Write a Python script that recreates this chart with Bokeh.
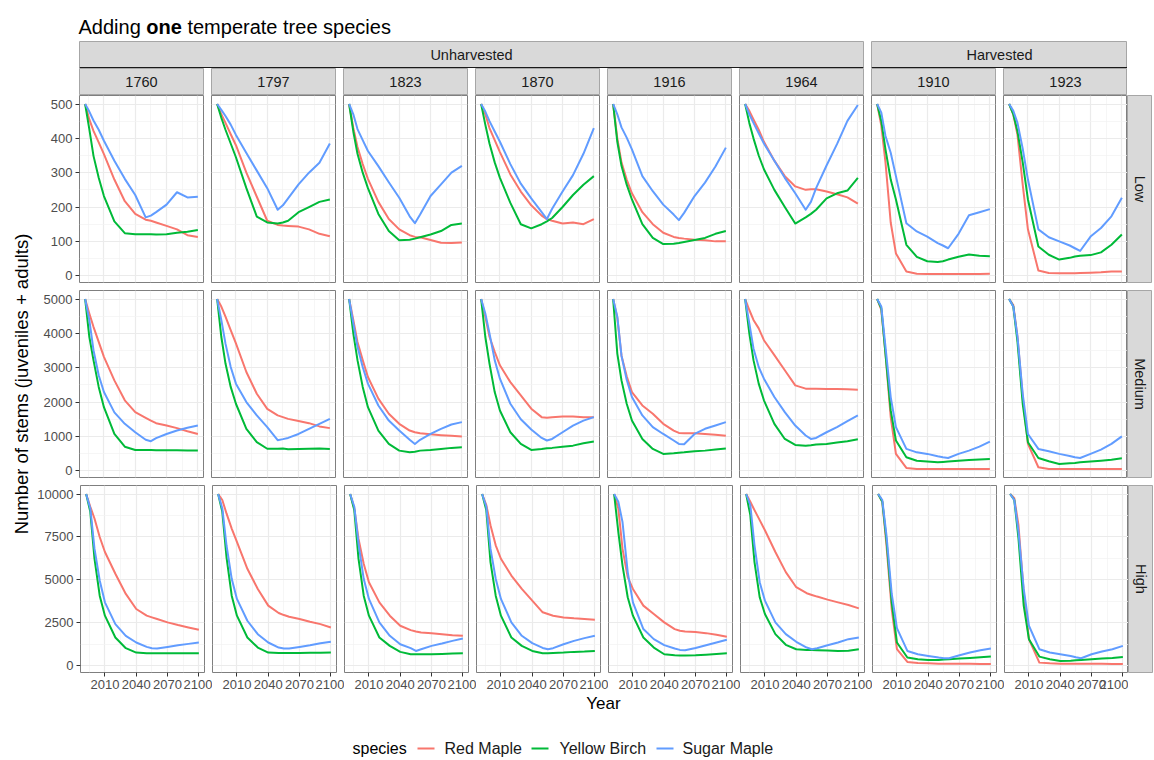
import math
from bokeh.plotting import figure
from bokeh.models import Range1d, FixedTicker, NumeralTickFormatter, Span, Spacer
from bokeh.layouts import row, column
from bokeh.embed import file_html
from bokeh.resources import INLINE
from bokeh.core.properties import value

FONT = "Liberation Sans"

# ---------------- data ----------------
years = [1992, 1996, 2000, 2005, 2010, 2020, 2030, 2040, 2050, 2055, 2060, 2070, 2080, 2090, 2100]
species = ["Red Maple", "Yellow Birch", "Sugar Maple"]
species_colors = ["#F8766D", "#00BA38", "#619CFF"]
management = ["Unharvested", "Harvested"]
unharvested_cohorts = ["1760", "1797", "1823", "1870", "1916", "1964"]
harvested_cohorts = ["1910", "1923"]
densities = ["Low", "Medium", "High"]
x_breaks = [2010, 2040, 2070, 2100]
y_breaks_low = [0, 100, 200, 300, 400, 500]
y_breaks_medium = [0, 1000, 2000, 3000, 4000, 5000]
y_breaks_high = [0, 2500, 5000, 7500, 10000]

# Low density
low_1760_red   = [500, 455, 422, 388, 354, 280, 217, 180, 163, 160, 155, 145, 135, 118, 113]
low_1760_birch = [500, 427, 349, 285, 232, 158, 124, 121, 121, 121, 120, 121, 125, 128, 133]
low_1760_sugar = [500, 478, 452, 425, 393, 335, 282, 235, 170, 175, 185, 207, 243, 228, 230]
low_1797_red   = [500, 470, 445, 412, 380, 300, 230, 160, 148, 146, 145, 143, 135, 122, 115]
low_1797_birch = [500, 460, 425, 385, 345, 255, 172, 155, 152, 155, 160, 185, 200, 215, 222]
low_1797_sugar = [500, 483, 465, 440, 410, 357, 306, 255, 192, 205, 225, 266, 300, 329, 385]
low_1823_red   = [500, 430, 375, 325, 282, 215, 165, 135, 118, 113, 112, 104, 96, 95, 97]
low_1823_birch = [500, 420, 355, 300, 255, 180, 130, 103, 105, 108, 112, 120, 130, 148, 152]
low_1823_sugar = [500, 470, 427, 395, 363, 319, 272, 227, 173, 153, 178, 232, 266, 300, 320]
low_1870_red   = [500, 470, 430, 395, 360, 295, 245, 205, 175, 165, 160, 152, 155, 150, 165]
low_1870_birch = [500, 440, 385, 330, 285, 212, 150, 138, 150, 158, 168, 200, 235, 265, 290]
low_1870_sugar = [500, 478, 450, 420, 390, 325, 268, 225, 185, 165, 195, 245, 293, 355, 430]
low_1916_red   = [500, 400, 330, 280, 240, 185, 150, 125, 113, 110, 108, 105, 103, 100, 100]
low_1916_birch = [500, 390, 320, 265, 222, 150, 110, 92, 93, 95, 98, 104, 110, 122, 130]
low_1916_sugar = [500, 470, 432, 402, 368, 290, 246, 207, 178, 162, 183, 232, 271, 318, 373]
low_1964_red   = [500, 480, 455, 425, 390, 335, 290, 260, 250, 252, 252, 245, 237, 228, 210]
low_1964_birch = [500, 445, 400, 350, 310, 250, 200, 152, 170, 180, 192, 225, 240, 248, 285]
low_1964_sugar = [500, 470, 445, 415, 385, 335, 285, 240, 192, 215, 255, 321, 383, 451, 497]
low_1910_red   = [500, 437, 330, 155, 65, 12, 6, 5, 5, 5, 5, 5, 5, 5, 6]
low_1910_birch = [500, 450, 368, 280, 222, 90, 55, 42, 40, 42, 47, 55, 62, 58, 57]
low_1910_sugar = [500, 475, 407, 358, 290, 153, 129, 114, 95, 88, 80, 122, 176, 185, 194]
low_1923_red   = [500, 470, 410, 265, 135, 15, 8, 7, 7, 7, 8, 9, 10, 12, 12]
low_1923_birch = [500, 470, 420, 330, 222, 85, 61, 47, 52, 56, 58, 60, 68, 90, 120]
low_1923_sugar = [500, 480, 445, 370, 280, 135, 112, 100, 88, 80, 72, 114, 139, 173, 227]

# Medium density
medium_1760_red   = [5000, 4580, 4190, 3750, 3315, 2630, 2050, 1705, 1540, 1460, 1385, 1315, 1240, 1150, 1070]
medium_1760_birch = [5000, 3900, 3220, 2440, 1850, 1070, 700, 605, 600, 600, 598, 595, 595, 590, 590]
medium_1760_sugar = [5000, 4390, 3510, 2780, 2290, 1700, 1365, 1120, 900, 860, 950, 1070, 1170, 1250, 1315]
medium_1797_red   = [5000, 4780, 4485, 4095, 3705, 2875, 2240, 1800, 1610, 1560, 1510, 1445, 1385, 1290, 1240]
medium_1797_birch = [5000, 3900, 3120, 2440, 1950, 1220, 830, 640, 640, 645, 625, 635, 640, 650, 635]
medium_1797_sugar = [5000, 4390, 3700, 3020, 2535, 2000, 1610, 1270, 890, 920, 955, 1070, 1220, 1365, 1510]
medium_1823_red   = [5000, 4390, 3750, 3220, 2730, 2100, 1660, 1365, 1170, 1120, 1090, 1060, 1035, 1015, 995]
medium_1823_birch = [5000, 4000, 3220, 2440, 1850, 1170, 780, 585, 535, 555, 585, 605, 635, 665, 680]
medium_1823_sugar = [5000, 4290, 3610, 3020, 2535, 1900, 1460, 1170, 900, 780, 900, 1070, 1220, 1345, 1415]
medium_1870_red   = [5000, 4485, 3900, 3460, 3070, 2580, 2195, 1805, 1560, 1540, 1560, 1580, 1580, 1560, 1560]
medium_1870_birch = [5000, 3900, 3120, 2290, 1755, 1120, 780, 605, 635, 655, 665, 700, 730, 800, 850]
medium_1870_sugar = [5000, 4580, 4000, 3220, 2680, 1950, 1500, 1200, 955, 880, 925, 1120, 1315, 1460, 1560]
medium_1916_red   = [5000, 4450, 3350, 2750, 2290, 1900, 1660, 1365, 1170, 1100, 1090, 1090, 1070, 1050, 1020]
medium_1916_birch = [5000, 3410, 2630, 1950, 1460, 925, 635, 490, 510, 525, 535, 565, 585, 615, 645]
medium_1916_sugar = [5000, 4485, 3350, 2650, 2145, 1610, 1270, 1070, 880, 780, 770, 1070, 1220, 1315, 1415]
medium_1964_red   = [5000, 4680, 4390, 4145, 3800, 3365, 2925, 2485, 2390, 2390, 2390, 2380, 2380, 2370, 2360]
medium_1964_birch = [5000, 4000, 3220, 2535, 2050, 1365, 925, 750, 730, 740, 760, 780, 820, 860, 915]
medium_1964_sugar = [5000, 4290, 3560, 3020, 2680, 2145, 1705, 1315, 1025, 925, 955, 1120, 1270, 1445, 1610]
medium_1910_red   = [5000, 4680, 3410, 1560, 490, 80, 50, 50, 50, 50, 50, 50, 50, 50, 50]
medium_1910_birch = [5000, 4730, 3410, 1755, 880, 390, 290, 265, 245, 255, 265, 290, 310, 330, 340]
medium_1910_sugar = [5000, 4780, 3610, 2145, 1270, 635, 535, 490, 420, 390, 370, 490, 585, 700, 850]
medium_1923_red   = [5000, 4825, 3900, 2145, 780, 100, 50, 50, 50, 50, 50, 50, 50, 50, 50]
medium_1923_birch = [5000, 4780, 3750, 1950, 830, 370, 275, 195, 215, 225, 245, 265, 290, 320, 360]
medium_1923_sugar = [5000, 4780, 3900, 2240, 1070, 635, 565, 490, 430, 390, 370, 490, 615, 780, 1000]

# High density
high_1760_red   = [10000, 9260, 8575, 7500, 6630, 5360, 4190, 3315, 2925, 2825, 2730, 2535, 2380, 2240, 2105]
high_1760_birch = [10000, 8965, 6240, 4090, 2925, 1655, 1035, 780, 740, 740, 740, 740, 740, 740, 740]
high_1760_sugar = [10000, 9160, 6820, 4970, 3700, 2435, 1755, 1365, 1110, 1035, 1015, 1110, 1210, 1285, 1365]
high_1797_red   = [10000, 9650, 8870, 7990, 7210, 5650, 4480, 3510, 3080, 2960, 2865, 2730, 2575, 2435, 2240]
high_1797_birch = [10000, 8965, 6335, 4090, 2925, 1655, 1070, 780, 760, 760, 760, 760, 770, 775, 780]
high_1797_sugar = [10000, 9160, 7020, 5070, 3900, 2630, 1850, 1365, 1070, 1015, 1015, 1110, 1210, 1325, 1405]
high_1823_red   = [10000, 9160, 7400, 5945, 4870, 3700, 2925, 2340, 2085, 2010, 1950, 1910, 1850, 1790, 1755]
high_1823_birch = [10000, 9060, 6240, 4090, 2925, 1655, 1170, 820, 680, 680, 680, 680, 700, 720, 740]
high_1823_sugar = [10000, 9260, 7120, 5070, 3900, 2535, 1755, 1265, 1035, 875, 975, 1170, 1305, 1460, 1600]
high_1870_red   = [10000, 9360, 8185, 7015, 6235, 5260, 4480, 3800, 3120, 3020, 2925, 2825, 2770, 2730, 2690]
high_1870_birch = [10000, 9060, 6040, 4090, 2925, 1655, 1170, 875, 740, 740, 760, 780, 820, 840, 875]
high_1870_sugar = [10000, 9260, 6820, 5070, 3900, 2535, 1755, 1325, 1050, 975, 1035, 1265, 1460, 1620, 1755]
high_1916_red   = [10000, 9160, 6820, 5165, 4480, 3510, 3020, 2535, 2145, 2045, 2010, 1970, 1910, 1810, 1695]
high_1916_birch = [10000, 7800, 5850, 3995, 2925, 1655, 1070, 680, 625, 605, 605, 625, 660, 700, 740]
high_1916_sugar = [10000, 9550, 8380, 5460, 3700, 2145, 1560, 1210, 1015, 935, 915, 1050, 1210, 1365, 1520]
high_1964_red   = [10000, 9550, 9060, 8480, 7890, 6625, 5455, 4580, 4230, 4130, 4035, 3860, 3700, 3545, 3350]
high_1964_birch = [10000, 8770, 6040, 3995, 3020, 1850, 1230, 975, 935, 925, 915, 895, 875, 890, 975]
high_1964_sugar = [10000, 9360, 7015, 4870, 3800, 2535, 1850, 1405, 1070, 975, 1035, 1210, 1365, 1560, 1655]
high_1910_red   = [10000, 9550, 7015, 3310, 975, 235, 175, 155, 135, 135, 135, 130, 125, 120, 115]
high_1910_birch = [10000, 9550, 7310, 3700, 1365, 490, 390, 350, 350, 370, 390, 430, 470, 505, 545]
high_1910_sugar = [10000, 9650, 7600, 4200, 2200, 875, 680, 585, 490, 450, 450, 625, 780, 915, 1015]
high_1923_red   = [10000, 9750, 8185, 4290, 1560, 195, 155, 135, 135, 135, 135, 130, 125, 120, 115]
high_1923_birch = [10000, 9650, 7400, 3510, 1560, 545, 390, 290, 310, 330, 350, 390, 430, 470, 525]
high_1923_sugar = [10000, 9650, 7800, 4480, 2340, 975, 780, 680, 585, 505, 450, 680, 840, 975, 1170]

# ---------------- assemble lookup ----------------
cohorts = unharvested_cohorts + harvested_cohorts
series = {}
for d in densities:
    for c in cohorts:
        series[(d, c)] = [globals()[f"{d.lower()}_{c}_{s}"] for s in ("red", "birch", "sugar")]
y_breaks = [y_breaks_low, y_breaks_medium, y_breaks_high]


def expand(lo, hi, mult=0.05):
    d = (hi - lo) * mult
    return lo - d, hi + d


def minor_breaks(br, lo, hi):
    step = br[1] - br[0]
    cands = [b - step / 2 for b in br] + [br[-1] + step / 2]
    return [m for m in cands if lo <= m <= hi]


x_lo, x_hi = expand(min(years), max(years))
row_ranges = []
for d in densities:
    vals = [v for c in cohorts for arr in series[(d, c)] for v in arr]
    row_ranges.append(expand(min(vals), max(vals)))

# ---------------- layout constants ----------------
PW, PH, GAP = 124, 187, 8
LEFT, BOTTOM = 45, 22
STRIP_H = 27
RSTRIP_W = 25
TOTAL_W = 1153
LEFT_OFF = 79  # page left to first panel frame

TICK_FONT = "13px"
STRIP_FONT = "14.5px"
PANEL_BORDER = "#7F7F7F"
STRIP_BORDER = "#A6A6A6"


def base_fig(fw, fh, xr, yr, **kw):
    p = figure(frame_width=fw, frame_height=fh, x_range=xr, y_range=yr,
               output_backend="svg", toolbar_location=None, title=None,
               x_axis_location=kw.pop("x_axis_location", None),
               y_axis_location=kw.pop("y_axis_location", None),
               min_border_left=kw.pop("ml", 0), min_border_right=kw.pop("mr", 0),
               min_border_top=kw.pop("mt", 0), min_border_bottom=kw.pop("mb", 0),
               **kw)
    p.border_fill_color = "white"
    return p


def strip(label, fw, fh, mr=0, mb=0, angle=0.0, nest=False):
    s = base_fig(fw, fh, Range1d(0, 1), Range1d(0, 1), mr=mr, mb=mb,
                 background_fill_color="#D9D9D9")
    s.outline_line_color = STRIP_BORDER
    s.grid.visible = False
    s.text(x=[0.5], y=[0.5], text=[label], angle=angle, text_align="center",
           text_baseline="middle", text_font=value(FONT),
           text_font_size=STRIP_FONT, text_color="#1A1A1A")
    if nest:
        s.add_layout(Span(location=0.03, dimension="width", line_color="#1A1A1A", line_width=1.6))
    return s


def panel(ri, ci, dens, coh):
    left = ci == 0
    bottom = ri == len(densities) - 1
    last = ci == len(cohorts) - 1
    ylo, yhi = row_ranges[ri]
    p = base_fig(PW, PH, Range1d(x_lo, x_hi), Range1d(ylo, yhi),
                 x_axis_location="below" if bottom else None,
                 y_axis_location="left" if left else None,
                 ml=LEFT if left else 0, mr=0 if last else GAP,
                 mb=BOTTOM if bottom else GAP,
                 background_fill_color="white")
    p.outline_line_color = PANEL_BORDER
    p.outline_line_width = 1
    p.xgrid.ticker = FixedTicker(ticks=x_breaks, minor_ticks=minor_breaks(x_breaks, x_lo, x_hi))
    p.ygrid.ticker = FixedTicker(ticks=y_breaks[ri], minor_ticks=minor_breaks(y_breaks[ri], ylo, yhi))
    p.grid.grid_line_color = "#EBEBEB"
    p.grid.grid_line_width = 1.2
    p.grid.minor_grid_line_color = "#F2F2F2"
    p.grid.minor_grid_line_width = 0.7
    axes = []
    if bottom:
        ax = p.xaxis[0]
        ax.ticker = FixedTicker(ticks=x_breaks, minor_ticks=[])
        axes.append(ax)
    if left:
        ax = p.yaxis[0]
        ax.ticker = FixedTicker(ticks=y_breaks[ri], minor_ticks=[])
        axes.append(ax)
    for ax in axes:
        ax.formatter = NumeralTickFormatter(format="0")
        ax.axis_line_color = None
        ax.major_tick_line_color = "#333333"
        ax.major_tick_out = 4
        ax.major_tick_in = 0
        ax.minor_tick_line_color = None
        ax.major_label_text_font = FONT
        ax.major_label_text_font_size = TICK_FONT
        ax.major_label_text_color = "#4D4D4D"
        ax.major_label_standoff = 3
    for vals, col in zip(series[(dens, coh)], species_colors):
        p.line(years, vals, line_color=col, line_width=2, line_join="round")
    return p


# ---------------- title ----------------
TITLE_H = 41
title = base_fig(TOTAL_W, TITLE_H, Range1d(0, TOTAL_W), Range1d(0, TITLE_H))
title.outline_line_color = None
title.grid.visible = False
t_size = 20
tx0 = 78
t_parts = ["Adding", "one", "temperate tree species"]
t_x = [tx0, tx0 + (3.113 + 0.278) * t_size, tx0 + (3.113 + 0.278 + 1.778 + 0.278) * t_size]
t_styles = ["normal", "bold", "normal"]
for txt, xx, st in zip(t_parts, t_x, t_styles):
    title.text(x=[xx], y=[TITLE_H - 26], text=[txt], text_align="left", text_baseline="alphabetic",
               text_font=value(FONT), text_font_size=f"{t_size}px", text_font_style=st,
               text_color="#000000")

# ---------------- strips ----------------
n_unh = len(unharvested_cohorts)
n_har = len(harvested_cohorts)
top_strips = row(
    Spacer(width=LEFT_OFF, height=STRIP_H),
    strip(management[0], n_unh * PW + (n_unh - 1) * GAP, STRIP_H, mr=GAP, nest=True),
    strip(management[1], n_har * PW + (n_har - 1) * GAP, STRIP_H, nest=True),
)
year_strips = row(
    Spacer(width=LEFT_OFF, height=STRIP_H),
    *[strip(c, PW, STRIP_H, mr=0 if i == len(cohorts) - 1 else GAP) for i, c in enumerate(cohorts)],
)

# ---------------- panels ----------------
panel_rows = []
for ri, d in enumerate(densities):
    figs = [panel(ri, ci, d, c) for ci, c in enumerate(cohorts)]
    mb = BOTTOM if ri == len(densities) - 1 else GAP
    figs.append(strip(d, RSTRIP_W, PH, mb=mb, angle=-math.pi / 2))
    panel_rows.append(row(*figs))

body_h = len(densities) * PH + (len(densities) - 1) * GAP + BOTTOM
YL_W = LEFT_OFF - LEFT
ylab = base_fig(YL_W, body_h, Range1d(0, YL_W), Range1d(0, body_h))
ylab.outline_line_color = None
ylab.grid.visible = False
ylab.text(x=[21], y=[body_h - (3 * PH + 2 * GAP) / 2], text=["Number of stems (juveniles + adults)"],
          angle=math.pi / 2, text_align="center", text_baseline="middle",
          text_font=value(FONT), text_font_size="18.5px", text_color="#000000")

body = row(ylab, column(*panel_rows))

# ---------------- x label ----------------
XL_H = 22
xlab = base_fig(TOTAL_W, XL_H, Range1d(0, TOTAL_W), Range1d(0, XL_H))
xlab.outline_line_color = None
xlab.grid.visible = False
panel_span = len(cohorts) * PW + (len(cohorts) - 1) * GAP
xlab.text(x=[LEFT_OFF + panel_span / 2], y=[XL_H - 9], text=["Year"], text_align="center",
          text_baseline="middle", text_font=value(FONT), text_font_size="17px", text_color="#000000")

# ---------------- legend ----------------
LG_H = 44
leg = base_fig(TOTAL_W, LG_H, Range1d(0, TOTAL_W), Range1d(0, LG_H))
leg.outline_line_color = None
leg.grid.visible = False
ly = 12
leg.text(x=[352], y=[ly], text=["species"], text_align="left", text_baseline="middle",
         text_font=value(FONT), text_font_size="16px", text_color="#000000")
key_x = [417, 531, 656]
label_x = [444, 559, 682]
leg.segment(x0=key_x, y0=[ly] * 3, x1=[k + 17 for k in key_x], y1=[ly] * 3,
            line_color=species_colors, line_width=2)
leg.text(x=label_x, y=[ly] * 3, text=species, text_align="left", text_baseline="middle",
         text_font=value(FONT), text_font_size="16px", text_color="#1A1A1A")

layout = column(title, top_strips, year_strips, body, xlab, leg)

open("out.html", "w").write(file_html(layout, INLINE))
